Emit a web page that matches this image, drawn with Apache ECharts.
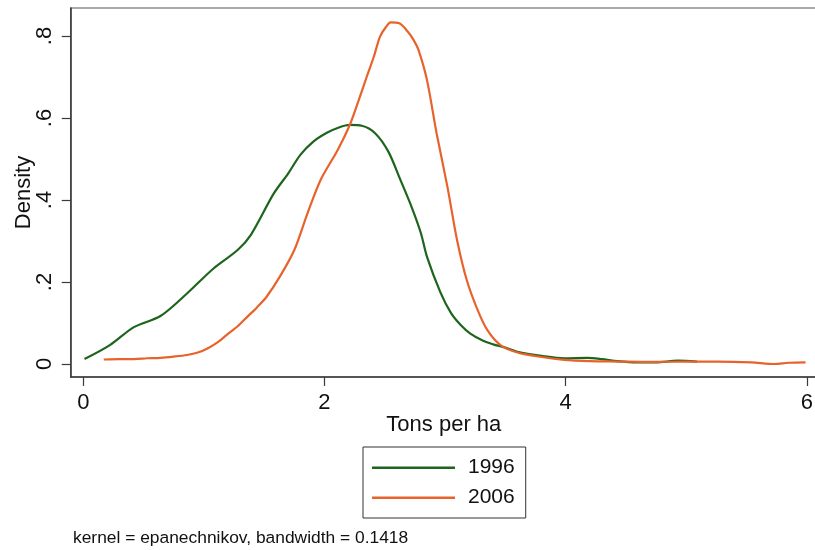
<!DOCTYPE html>
<html>
<head>
<meta charset="utf-8">
<script src="https://cdn.jsdelivr.net/npm/echarts@6/dist/echarts.min.js"></script>
<style>
  html, body { margin: 0; padding: 0; background: #fff; }
  #chart { width: 815px; height: 550px; }
</style>
</head>
<body>
<div id="chart"></div>
<script>
// Kernel density estimates of yield (tons per hectare), two survey years
const x1996 = [0.01, 0.22, 0.42, 0.64, 0.86, 1.08, 1.28, 1.39, 1.58, 1.70, 1.80, 1.91, 2.02, 2.12, 2.21, 2.31, 2.42, 2.53, 2.63, 2.72, 2.80, 2.85, 2.96, 3.05, 3.13, 3.21, 3.32, 3.40, 3.50, 3.60, 3.80, 3.99, 4.18, 4.30, 4.43, 4.59, 4.75, 4.93, 5.09];
const y1996 = [0.012, 0.046, 0.090, 0.117, 0.172, 0.233, 0.278, 0.315, 0.416, 0.465, 0.510, 0.543, 0.564, 0.577, 0.583, 0.581, 0.563, 0.518, 0.449, 0.385, 0.319, 0.262, 0.176, 0.124, 0.095, 0.074, 0.056, 0.048, 0.040, 0.030, 0.020, 0.014, 0.015, 0.012, 0.007, 0.004, 0.004, 0.008, 0.006];

const x2006 = [0.17, 0.30, 0.42, 0.53, 0.64, 0.75, 0.86, 0.95, 1.03, 1.11, 1.19, 1.28, 1.36, 1.44, 1.52, 1.63, 1.75, 1.86, 1.97, 2.11, 2.21, 2.28, 2.35, 2.41, 2.46, 2.51, 2.55, 2.62, 2.69, 2.74, 2.78, 2.85, 2.93, 3.02, 3.10, 3.18, 3.27, 3.35, 3.46, 3.60, 3.80, 3.99, 4.20, 4.43, 4.71, 5.00, 5.26, 5.54, 5.73, 5.85, 5.99];
const y2006 = [0.011, 0.012, 0.012, 0.014, 0.015, 0.018, 0.022, 0.028, 0.038, 0.052, 0.071, 0.092, 0.115, 0.138, 0.164, 0.213, 0.278, 0.368, 0.450, 0.522, 0.583, 0.640, 0.700, 0.750, 0.798, 0.822, 0.833, 0.831, 0.811, 0.790, 0.766, 0.693, 0.563, 0.432, 0.302, 0.205, 0.132, 0.083, 0.046, 0.028, 0.017, 0.010, 0.007, 0.006, 0.005, 0.006, 0.006, 0.004, 0.000, 0.003, 0.004];

const seriesNames = ['1996', '2006'];
const xTickValues = [0, 2, 4, 6];
const yTickValues = [0, 0.2, 0.4, 0.6, 0.8];
const yTickLabels = ['0', '.2', '.4', '.6', '.8'];

const xAxisTitle = 'Tons per ha';
const yAxisTitle = 'Density';
const noteText = 'kernel = epanechnikov, bandwidth = 0.1418';

const FONT = '"Liberation Sans", Arial, sans-serif';
const AXIS_COLOR = '#3a3a3a';

const pairs = (xs, ys) => xs.map((x, i) => [x, ys[i]]);

const chart = echarts.init(document.getElementById('chart'), null, { renderer: 'canvas' });

chart.setOption({
  backgroundColor: '#ffffff',
  animation: false,
  textStyle: { fontFamily: FONT },
  grid: {
    left: 70.7, top: 8, right: -2, bottom: 173,
    show: true, borderColor: '#555', borderWidth: 1.2,
    containLabel: false, outerBoundsMode: 'none'
  },
  title: {
    text: noteText,
    left: 73, top: 530, padding: 0,
    textStyle: { fontFamily: FONT, fontSize: 17.4, fontWeight: 'normal', color: '#111' }
  },
  legend: {
    data: seriesNames,
    orient: 'vertical',
    left: 363, top: 447,
    padding: [9.7, 11, 9.3, 9],
    itemGap: 8,
    itemWidth: 83, itemHeight: 2.5,
    icon: 'rect',
    borderColor: '#333', borderWidth: 1,
    textStyle: { fontFamily: FONT, fontSize: 21, lineHeight: 22, color: '#111', padding: [0, 0, 0, 8] }
  },
  xAxis: {
    type: 'value',
    min: -0.1045, max: 6.085,
    splitLine: { show: false },
    axisLine: { show: true, onZero: false, lineStyle: { color: AXIS_COLOR, width: 1.5 } },
    axisTick: { show: true, length: 9, customValues: xTickValues, lineStyle: { color: AXIS_COLOR, width: 1.2 } },
    axisLabel: { customValues: xTickValues, margin: 15, fontSize: 22, color: '#111', fontFamily: FONT },
    name: xAxisTitle,
    nameLocation: 'middle',
    nameGap: 37,
    nameMoveOverlap: false,
    nameTextStyle: { fontSize: 22, color: '#111', fontFamily: FONT }
  },
  yAxis: {
    type: 'value',
    min: -0.0317, max: 0.8683,
    splitLine: { show: false },
    axisLine: { show: true, onZero: false, lineStyle: { color: AXIS_COLOR, width: 1.5 } },
    axisTick: { show: true, length: 9, customValues: yTickValues, lineStyle: { color: AXIS_COLOR, width: 1.2 } },
    axisLabel: {
      customValues: yTickValues,
      rotate: 90, margin: 15, fontSize: 22, color: '#111', fontFamily: FONT,
      formatter: v => yTickLabels[yTickValues.findIndex(t => Math.abs(t - v) < 1e-9)]
    },
    name: yAxisTitle,
    nameLocation: 'middle',
    nameGap: 36,
    nameMoveOverlap: false,
    nameTextStyle: { fontSize: 22, color: '#111', fontFamily: FONT }
  },
  series: [
    {
      name: seriesNames[0], type: 'line', data: pairs(x1996, y1996),
      showSymbol: false, smooth: 0.3,
      lineStyle: { color: '#1d651d', width: 2.2 }, itemStyle: { color: '#1d651d' }
    },
    {
      name: seriesNames[1], type: 'line', data: pairs(x2006, y2006),
      showSymbol: false, smooth: 0.3,
      lineStyle: { color: '#e8632b', width: 2.2 }, itemStyle: { color: '#e8632b' }
    }
  ]
});
</script>
</body>
</html>
